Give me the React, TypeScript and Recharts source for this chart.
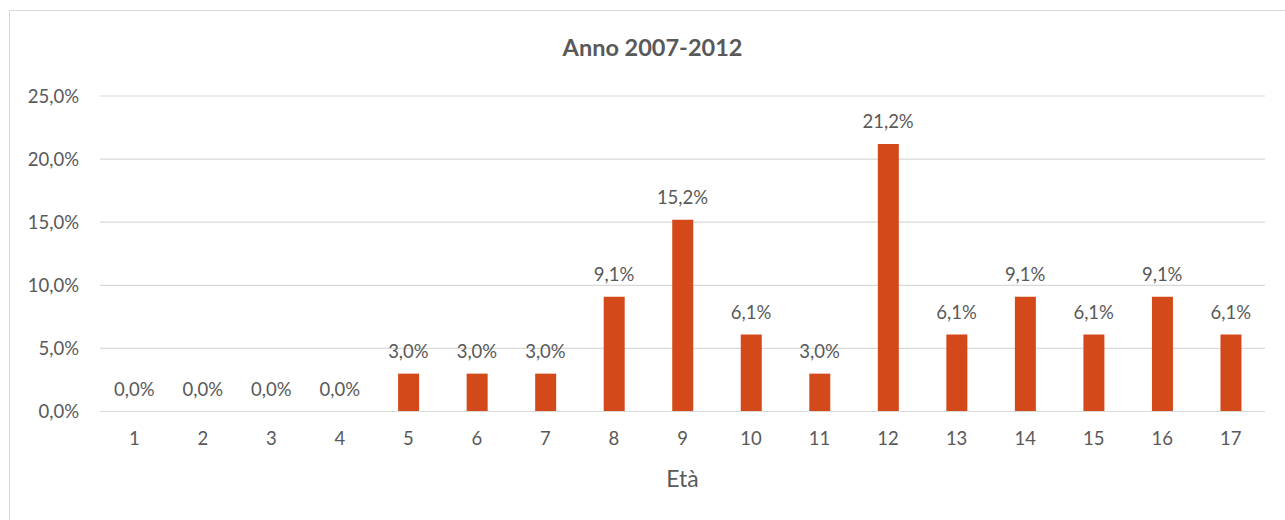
import React from 'react';
import { ComposedChart, Bar, Line, XAxis, YAxis, CartesianGrid, LabelList } from 'recharts';

// Età (anni) e quota percentuale per il periodo 2007-2012
const eta = ['1', '2', '3', '4', '5', '6', '7', '8', '9', '10', '11', '12', '13', '14', '15', '16', '17'];
const quota = [0.0, 0.0, 0.0, 0.0, 3.0, 3.0, 3.0, 9.1, 15.2, 6.1, 3.0, 21.2, 6.1, 9.1, 6.1, 9.1, 6.1];
const yTicks = [0, 5, 10, 15, 20, 25];

const data = eta.map((e, i) => ({ eta: e, quota: quota[i] }));

const FONT = 'Lato, "Open Sans", sans-serif';
const TEXT = '#595959';
const GRID = '#d9d9d9';
const BAR = '#D4491A';

const pct = (v: number) => `${v.toFixed(1).replace('.', ',')}%`;

export default function App() {
  return (
    <div style={{ position: 'absolute', left: 0, top: 0, width: 1285, height: 520, overflow: 'hidden', background: '#fff', fontFamily: FONT }}>
      <div
        style={{
          position: 'absolute',
          left: 9,
          top: 10,
          width: 1300,
          height: 540,
          border: `1px solid ${GRID}`,
          boxSizing: 'border-box',
        }}
      />
      <div
        style={{
          position: 'absolute',
          left: 0,
          width: 1305,
          top: 33,
          textAlign: 'center',
          fontWeight: 700,
          fontSize: 23.5,
          color: TEXT,
          lineHeight: '28px',
        }}
      >
        Anno 2007-2012
      </div>
      <div style={{ position: 'absolute', left: 0, top: 0 }}>
        <ComposedChart width={1285} height={520} data={data} margin={{ top: 96, right: 20, bottom: 48.5, left: 0 }}>
          <CartesianGrid vertical={false} stroke={GRID} strokeWidth={1.2} />
          <XAxis
            dataKey="eta"
            height={60}
            tickLine={false}
            tickSize={0}
            tickMargin={20}
            axisLine={{ stroke: GRID, strokeWidth: 1.2 }}
            tick={{ fill: TEXT, fontSize: 18.5, fontFamily: FONT }}
            label={(props: any) => {
              const vb = props.viewBox || {};
              const cx = (vb.x ?? 100) + (vb.width ?? 1165) / 2;
              const y = (vb.y ?? 411.5) + 75;
              return (
                <text x={cx} y={y} textAnchor="middle" fill={TEXT} fontSize={23} fontFamily={FONT}>
                  Età
                </text>
              );
            }}
          />
          <YAxis
            width={100}
            domain={[0, 25]}
            ticks={yTicks}
            interval={0}
            axisLine={false}
            tickLine={false}
            tickSize={0}
            tickMargin={21}
            tickFormatter={pct}
            tick={{ fill: TEXT, fontSize: 18.5, fontFamily: FONT }}
          />
          <Bar dataKey="quota" fill={BAR} barSize={21} isAnimationActive={false} />
          {/* invisible carrier for the value labels, so zero values are labelled too */}
          <Line
            dataKey="quota"
            stroke="none"
            strokeOpacity={0}
            dot={false}
            activeDot={false}
            legendType="none"
            isAnimationActive={false}
          >
            <LabelList
              dataKey="quota"
              position="top"
              offset={16}
              formatter={(v: any) => pct(Number(v))}
              style={{ fill: TEXT, fontSize: 18.5, fontFamily: FONT }}
            />
          </Line>
        </ComposedChart>
      </div>
    </div>
  );
}
